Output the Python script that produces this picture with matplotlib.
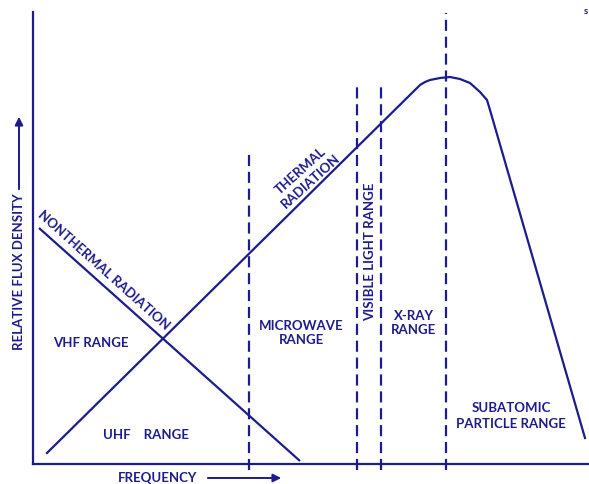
import matplotlib
matplotlib.use("Agg")
import matplotlib.pyplot as plt

# ---- data (chart units: frequency / relative flux, origin at axes corner) ----
nonthermal_x = [6, 267]
nonthermal_y = [236, 3]

thermal_x = [14, 384, 387, 392, 397, 407, 417, 427, 437, 447, 454, 457, 552]
thermal_y = [11, 376, 379, 382, 384, 386, 387, 385, 381, 372, 364, 354, 26]

boundary_x = [216, 324, 348, 413]          # dashed range boundaries
boundary_top = [311, 379, 382, 451]

region_labels = ["VHF RANGE", "UHF    RANGE", "MICROWAVE\nRANGE", "X-RAY\nRANGE",
                 "SUBATOMIC\nPARTICLE RANGE"]
region_x = [58, 113, 268, 381, 478]
region_y = [121, 29, 131, 141, 48]

INK = "#1c1c8c"
plt.rcParams['font.family'] = ['Lato', 'DejaVu Sans']

fig = plt.figure(figsize=(5.89, 4.84), dpi=100)
W, H = 589, 484
ax = fig.add_axes([33 / W, (H - 464) / H, (W - 33) / W, (464 - 12) / H])
ax.set_xlim(0, 556)
ax.set_ylim(0, 452)
for s in ["top", "right"]:
    ax.spines[s].set_visible(False)
for s in ["left", "bottom"]:
    ax.spines[s].set_color(INK)
    ax.spines[s].set_linewidth(1.6)
ax.set_xticks([])
ax.set_yticks([])

ax.plot(nonthermal_x, nonthermal_y, color=INK, lw=1.6, solid_capstyle="butt")
ax.plot(thermal_x, thermal_y, color=INK, lw=1.6, solid_joinstyle="round")

for bx, bt in zip(boundary_x, boundary_top):
    ax.plot([bx, bx], [-6, bt], color=INK, lw=1.6, linestyle=(0, (5, 2.6)), clip_on=False)

fs = 9.5
for lab, x, y in zip(region_labels, region_x, region_y):
    ax.text(x, y, lab, color=INK, fontsize=fs, ha="center", va="center",
            fontweight="bold", linespacing=1.3)

ax.text(337, 212, "VISIBLE LIGHT RANGE", color=INK, fontsize=fs, rotation=90,
        ha="center", va="center", fontweight="bold")
ax.text(71, 194, "NONTHERMAL RADIATION", color=INK, fontsize=fs, rotation=-41.8,
        ha="center", va="center", fontweight="bold", rotation_mode="anchor")
ax.text(273, 288, "THERMAL\nRADIATION", color=INK, fontsize=fs, rotation=42,
        ha="center", va="center", fontweight="bold", rotation_mode="anchor",
        linespacing=1.3)

# axis captions with arrows
ax.text(125, -14, "FREQUENCY", color=INK, fontsize=fs, ha="center", va="center",
        fontweight="bold", clip_on=False)
ax.annotate("", xy=(251, -14), xytext=(172, -14), xycoords="data",
            arrowprops=dict(arrowstyle="-|>", color=INK, lw=1.4, mutation_scale=12),
            annotation_clip=False)
ax.text(-14, 192, "RELATIVE FLUX DENSITY", color=INK, fontsize=fs, rotation=90,
        ha="center", va="center", fontweight="bold", clip_on=False)
ax.annotate("", xy=(-14, 350), xytext=(-14, 272), xycoords="data",
            arrowprops=dict(arrowstyle="-|>", color=INK, lw=1.4, mutation_scale=12),
            annotation_clip=False)
fig.text(586 / W, 1 - 12 / H, "s", color=INK, fontsize=7, fontweight="bold",
         ha="center", va="center")

fig.savefig("out.png", dpi=100)
